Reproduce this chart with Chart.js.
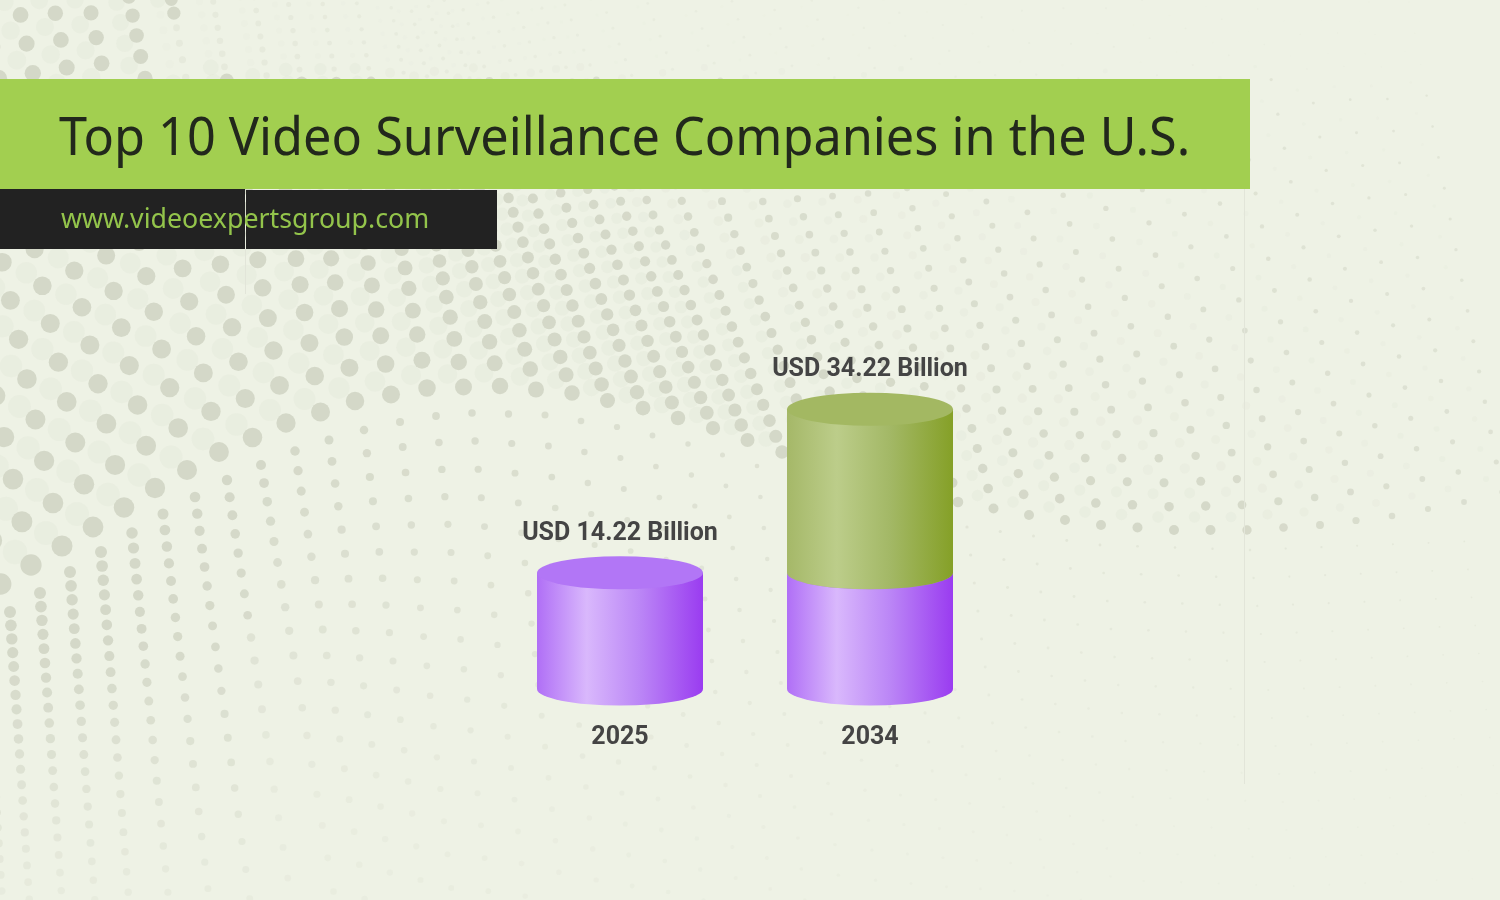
<!DOCTYPE html>
<html>
<head>
<meta charset="utf-8">
<title>Top 10 Video Surveillance Companies in the U.S.</title>
<script src="https://cdn.jsdelivr.net/npm/chart.js@4"></script>
<style>
  html, body { margin: 0; padding: 0; }
  body { width: 1500px; height: 900px; overflow: hidden; position: relative; background: #eef2e5; }
  canvas { position: absolute; left: 0; top: 0; }
  .rule { position: absolute; width: 1px; background: #e2e5d9; }
  #titleBar { position: absolute; left: 0; top: 79px; width: 1250px; height: 110px; background: #a2cf50; }
  #titleBar span {
    position: absolute; left: 59px; top: 20px; white-space: nowrap; transform-origin: 0 50%; transform: scaleX(0.951);
    font: 53px/72px "Noto Sans", sans-serif; color: #22281c;
  }
  #urlBar { position: absolute; left: 0; top: 189px; width: 245px; height: 60px; background: #222; }
  #urlBar2 { position: absolute; left: 246px; top: 190px; width: 251px; height: 59px; background: #222; }
  #urlText {
    position: absolute; left: 61px; top: 199px; white-space: nowrap; transform-origin: 0 50%; transform: scaleX(0.99);
    font: 27px/38px "Noto Sans", sans-serif; color: #93c44b;
  }
</style>
</head>
<body>
<canvas id="dots" width="1500" height="900"></canvas>
<div class="rule" style="left:245px;top:249px;height:45px"></div>
<div class="rule" style="left:1244px;top:189px;height:595px"></div>
<canvas id="marketChart" width="1500" height="900"></canvas>
<div id="titleBar"><span>Top 10 Video Surveillance Companies in the U.S.</span></div>
<div id="urlBar"></div>
<div id="urlBar2"></div>
<div id="urlText">www.videoexpertsgroup.com</div>

<script>
const years = ['2025', '2034'];
const marketSize = [14.22, 34.22];
const baseSize = [14.22, 14.22];
const addedSize = [0, 20];

// halftone backdrop: curve the dot columns start from, then per-column settings
// [x, spacing, spacing growth, lean, radius, radius falloff]
const upperCurve = [[-60,622],[31,565],[93,527],[155,488],[219,452],[286,423],[355,401],[427,388],[500,386],[572,393],[643,408],[713,428],[782,452],[860,478],[958,502],[1029,515],[1101,525],[1174,530],[1247,530],[1320,525],[1392,516],[1464,502],[1540,482]];
const upperCols = [[-60,44,1,.21,11,.985],[187,42,.96,.21,10,.98],[320,36,.92,.16,9.5,.975],[463,25,.93,.19,8.5,.965],[608,16,.995,.37,7.5,.97],[748,15,1,.42,7,.97],[993,20,1,.27,5,.97],[1211,24,1.03,.2,5,.945],[1400,30,1.01,.19,3.2,.94],[1540,30,1,.19,2.5,.94]];
const lowerCurve = [[-40,645],[10,612],[40,593],[70,572],[101,552],[132,533],[163,514],[195,497],[227,480],[261,465],[295,451],[329,440],[364,430],[400,422],[436,416],[472,413],[545,415],[617,427],[688,444],[757,466],[830,490],[900,510],[967,527],[1100,545],[1250,550],[1500,540]];
const lowerCols = [[-40,13,1.01,.06,6,.975],[101,14,1.02,.08,6,.975],[163,16,1.03,.12,5.5,.975],[261,18,1.04,.17,5,.975],[400,25,1.02,.11,4,.98],[545,31,1,.11,3.5,.98],[763,31,1,.11,2.3,.98],[967,28,1,.13,1.6,.98],[1500,28,1,.13,.8,.98]];

function lerpRow(table, x) {
  let i = 0;
  while (i < table.length - 2 && table[i + 1][0] < x) i++;
  const a = table[i], b = table[i + 1];
  const t = Math.max(0, Math.min(1, (x - a[0]) / (b[0] - a[0])));
  return a.map((v, k) => v + (b[k] - v) * t);
}

const clamp = (v, lo, hi) => Math.max(lo, Math.min(hi, v));

function upperFade(x, y) {
  return y < 79 && x > 175 ? .3 : 1;
}

function lowerFade(x, y) {
  return x > 250 ? clamp(1 - (y - 480) / 450, .25, 1) : clamp(1 - (y - 650) / 350, .3, 1);
}

function drawDotColumns(ctx, curve, cols, dir, fade) {
  for (let k = 0; k < curve.length - 1; k++) {
    const [x0, y0] = curve[k], [x1, y1] = curve[k + 1];
    const steps = Math.max(1, Math.round(Math.hypot(x1 - x0, y1 - y0) / 36));
    for (let s = 0; s < steps; s++) {
      let x = x0 + (x1 - x0) * s / steps;
      let y = y0 + (y1 - y0) * s / steps;
      let [, sp, grow, lean, r, fall] = lerpRow(cols, x);
      while (y > -15 && y < 915 && r > .5) {
        const f = fade(x, y);
        const alpha = Math.min(1, .3 + r / 7) * f;
        const size = f < .5 && dir < 0 ? r * .5 : r;
        if (dir < 0) {
          ctx.fillStyle = `rgba(212,216,200,${alpha * .16})`;
          ctx.beginPath();
          ctx.arc(x - 16, y - 13, size * 1.15, 0, Math.PI * 2);
          ctx.fill();
        }
        ctx.fillStyle = `rgba(212,216,200,${alpha})`;
        ctx.beginPath();
        ctx.arc(x, y, size, 0, Math.PI * 2);
        ctx.fill();
        x += dir * lean * sp;
        y += dir * sp;
        sp = Math.max(sp * grow, 13);
        r *= fall;
      }
    }
  }
}

const dotsCtx = document.getElementById('dots').getContext('2d');
drawDotColumns(dotsCtx, upperCurve, upperCols, -1, upperFade);
drawDotColumns(dotsCtx, lowerCurve, lowerCols, 1, lowerFade);

// side shading runs left to right across the barrel
const purpleStops = [[0, '#b06ff6'], [.3, '#d9b8fc'], [.62, '#bb86f6'], [1, '#9a3cf0']];
const greenStops = [[0, '#a5b868'], [.3, '#bccd8a'], [.62, '#a3b866'], [1, '#85a027']];
const capTint = ['#b276f6', '#a3b862'];
const ELLIPSE_RY = 16.5;

function sideGradient(ctx, left, right, stops) {
  const g = ctx.createLinearGradient(left, 0, right, 0);
  stops.forEach(s => g.addColorStop(s[0], s[1]));
  return g;
}

const cylinders = {
  id: 'cylinders',
  beforeDatasetsDraw(chart) {
    const { ctx } = chart;
    [0, 1].forEach(idx => {
      chart.getDatasetMeta(idx).data.forEach(bar => {
        const { x, y, base, width } = bar.getProps(['x', 'y', 'base', 'width']);
        if (Math.abs(base - y) < 1) return;
        const rx = width / 2;
        ctx.save();
        ctx.beginPath();
        ctx.moveTo(x - rx, y);
        ctx.lineTo(x - rx, base);
        ctx.ellipse(x, base, rx, ELLIPSE_RY, 0, Math.PI, 0, true);
        ctx.lineTo(x + rx, y);
        ctx.closePath();
        ctx.fillStyle = sideGradient(ctx, x - rx, x + rx, idx === 0 ? purpleStops : greenStops);
        ctx.fill();
        ctx.beginPath();
        ctx.ellipse(x, y, rx, ELLIPSE_RY, 0, 0, Math.PI * 2);
        ctx.fillStyle = capTint[idx];
        ctx.fill();
        ctx.restore();
      });
    });
  },
  afterDatasetsDraw(chart) {
    const { ctx, scales } = chart;
    ctx.save();
    ctx.font = 'bold 25px Roboto, sans-serif';
    ctx.fillStyle = '#444';
    ctx.textAlign = 'center';
    ctx.textBaseline = 'middle';
    marketSize.forEach((v, i) => {
      const x = scales.x.getPixelForValue(i);
      const y = scales.y.getPixelForValue(v);
      ctx.fillText(`USD ${v.toFixed(2)} Billion`, x, y - ELLIPSE_RY - 23);
    });
    ctx.restore();
  }
};

new Chart(document.getElementById('marketChart'), {
  type: 'bar',
  data: {
    labels: years,
    datasets: [
      { label: 'Base', data: baseSize, backgroundColor: 'transparent' },
      { label: 'Added', data: addedSize, backgroundColor: 'transparent' }
    ]
  },
  options: {
    responsive: false,
    animation: false,
    categoryPercentage: 1,
    barPercentage: 0.664,
    layout: { padding: { left: 495, right: 505, top: 362, bottom: 0 } },
    scales: {
      x: {
        stacked: true,
        grid: { display: false },
        border: { display: false },
        afterFit(axis) { axis.height = 211; },
        ticks: { color: '#444', padding: 26, font: { family: 'Roboto', size: 25, weight: 'bold' } }
      },
      y: { stacked: true, display: false, min: 0, max: 40 }
    },
    plugins: {
      legend: { display: false },
      tooltip: { enabled: false }
    }
  },
  plugins: [cylinders]
});
</script>
</body>
</html>
